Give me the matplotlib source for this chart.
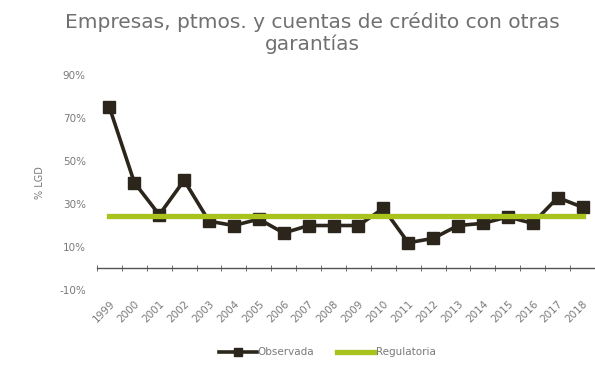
import numpy as np
import matplotlib

matplotlib.use("Agg")
import matplotlib.pyplot as plt
from matplotlib.ticker import FixedLocator, FuncFormatter

# LGD series by year, in percent
years = [str(y) for y in range(1999, 2019)]
observada = [75, 40, 25, 41, 22, 20, 23, 16.5, 20, 20, 20, 28, 12, 14, 20, 21, 24, 21, 33, 28.5]
regulatoria = [24.5] * len(years)

LINE_COLOR = "#2b251b"
GREEN = "#a9c31c"
GRAY = "#7a7a7a"

plt.rcParams.update({"font.family": "DejaVu Sans", "font.size": 7})

fig = plt.figure(figsize=(5.95, 3.68), dpi=100)
ax = fig.add_axes([0.163, 0.212, 0.837, 0.584])

# move the spine first: set_position resets the tick objects
for s in ["top", "right", "left"]:
    ax.spines[s].set_visible(False)
ax.spines["bottom"].set_position(("data", 0))
ax.spines["bottom"].set_color("#555555")
ax.spines["bottom"].set_linewidth(1.0)

x = np.arange(len(years))
ax.plot(x, observada, color=LINE_COLOR, lw=2.6, marker="s", ms=8, zorder=2,
        label="Observada")
ax.plot(x, regulatoria, color=GREEN, lw=3.8, zorder=3, label="Regulatoria")

ax.set_xlim(-0.5, len(years) - 0.5)
ax.set_ylim(-10, 90)
ax.set_yticks([-10, 10, 30, 50, 70, 90])
ax.yaxis.set_major_formatter(FuncFormatter(lambda v, _: f"{v:.0f}%"))
ax.tick_params(axis="y", length=0, labelcolor=GRAY, labelsize=7.5, pad=8)

# category ticks sit on the boundaries, labels at the centres
ax.set_xticks(x)
ax.set_xticklabels(years, rotation=45, ha="right", rotation_mode="anchor",
                   color=GRAY, fontsize=7.5)
ax.xaxis.set_minor_locator(FixedLocator(np.arange(-0.5, len(years), 1.0)))
ax.tick_params(axis="x", which="major", length=0, pad=22)
ax.tick_params(axis="x", which="minor", length=4, color="#555555", direction="inout")

ax.set_ylabel("% LGD", color=GRAY, fontsize=7, labelpad=10)

fig.text(0.525, 0.968, "Empresas, ptmos. y cuentas de crédito con otras\ngarantías",
         ha="center", va="top", fontsize=14.5, color="#707070", linespacing=1.15)

fig.legend(loc="center", bbox_to_anchor=(0.55, 0.043), ncol=2,
           frameon=False, fontsize=7.5, labelcolor=GRAY, handlelength=3.6,
           handletextpad=0.1, columnspacing=2.2, markerscale=0.8)

fig.savefig("out.png", dpi=100)
